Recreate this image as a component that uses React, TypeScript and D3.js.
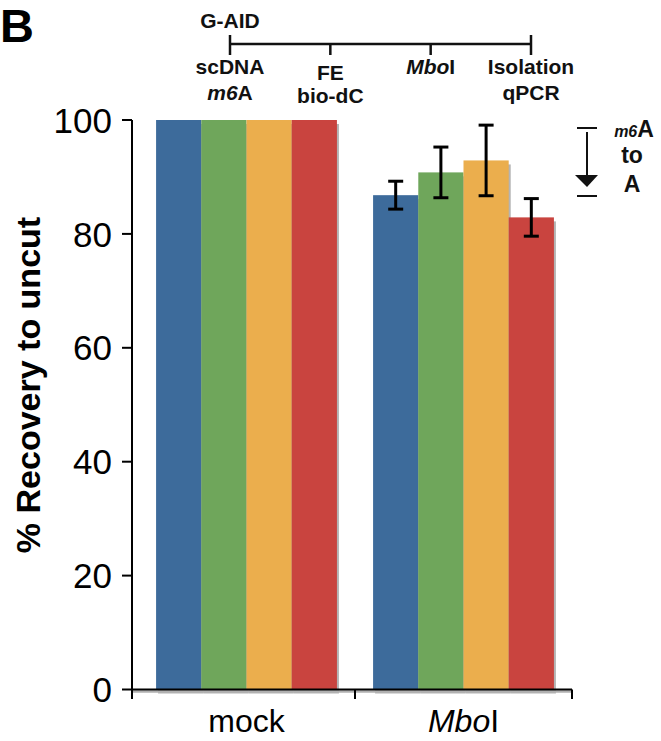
import React from 'react';
import * as d3 from 'd3';

// groups on the x axis and the four coloured series inside each group
const groups = ['mock', 'MboI'];
const seriesColors = ['#3d6b9b', '#6fa65b', '#ebae4d', '#c9443f'];
const mockValues = [100, 100, 100, 100];
const mboIValues = [86.8, 90.8, 92.9, 82.9];
const mockErrors = [0, 0, 0, 0];
const mboIErrors = [2.45, 4.45, 6.2, 3.3];
const yTicks = [0, 20, 40, 60, 80, 100];

// timeline above the chart
const steps = ['G-AID', 'FE', 'MboI', 'Isolation'];

const W = 661;
const H = 741;
const font = 'Liberation Sans, Arial, Helvetica, sans-serif';

const App = () => {
  const axisX = 132;
  const axisRight = 572;
  const y = d3.scaleLinear().domain([0, 100]).range([689.5, 120]);
  const x = d3.scaleBand().domain(groups).range([138, axisRight]);
  const inner = d3.scaleBand<number>()
    .domain(d3.range(seriesColors.length))
    .range([0, x.bandwidth()])
    .paddingOuter(0.4)
    .paddingInner(0);

  const rows = groups.map((g, gi) => ({
    group: g,
    values: gi === 0 ? mockValues : mboIValues,
    errors: gi === 0 ? mockErrors : mboIErrors,
  }));

  const tl = d3.scalePoint().domain(steps).range([230, 531]);
  const tlY = 44;

  return (
    <svg width={W} height={H} style={{ position: 'absolute', left: 0, top: 0 }} fontFamily={font}>
      <rect width={W} height={H} fill="#fff" />

      {/* panel letter */}
      <text x={0} y={42} fontSize={47} fontWeight="bold">B</text>

      {/* timeline */}
      <g stroke="#111" strokeWidth={2.5}>
        <line x1={tl('G-AID')} x2={tl('Isolation')} y1={tlY} y2={tlY} />
        <line x1={tl('G-AID')} x2={tl('G-AID')} y1={35} y2={55} />
        <line x1={tl('Isolation')} x2={tl('Isolation')} y1={35} y2={55} />
        <line x1={tl('FE')} x2={tl('FE')} y1={tlY} y2={55} />
        <line x1={tl('MboI')} x2={tl('MboI')} y1={tlY} y2={55} />
      </g>
      <g fontSize={21} fontWeight="bold" textAnchor="middle" fill="#111">
        <text x={tl('G-AID')} y={28}>G-AID</text>
        <text x={tl('G-AID')} y={74}>scDNA</text>
        <text x={tl('G-AID')} y={100}><tspan fontStyle="italic">m6</tspan>A</text>
        <text x={tl('FE')} y={80}>FE</text>
        <text x={tl('FE')} y={103}>bio-dC</text>
        <text x={tl('MboI')} y={74}><tspan fontStyle="italic">Mbo</tspan>I</text>
        <text x={tl('Isolation')} y={74}>Isolation</text>
        <text x={tl('Isolation')} y={100}>qPCR</text>
      </g>

      {/* bar shadows */}
      {rows.map(r => (
        <g key={'s' + r.group} transform={`translate(${x(r.group)},0)`}>
          {r.values.map((v, i) => (
            <rect key={i} x={(inner(i) ?? 0) + 2} y={y(v) + 4} width={inner.bandwidth()}
              height={y(0) - y(v)} fill="#b4b4b4" />
          ))}
        </g>
      ))}

      {/* axis shadow */}
      <line x1={axisX} x2={axisRight} y1={y(0) + 2} y2={y(0) + 2} stroke="#b0b0b0" strokeWidth={2.5} />

      {/* bars */}
      {rows.map(r => (
        <g key={r.group} transform={`translate(${x(r.group)},0)`}>
          {r.values.map((v, i) => (
            <rect key={i} x={inner(i)} y={y(v)} width={inner.bandwidth()}
              height={y(0) - y(v)} fill={seriesColors[i]} />
          ))}
        </g>
      ))}

      {/* error bars */}
      {rows.map(r => (
        <g key={'e' + r.group} transform={`translate(${x(r.group)},0)`} stroke="#000" strokeWidth={3}>
          {r.values.map((v, i) => {
            const e = r.errors[i];
            if (!e) return null;
            const cx = (inner(i) ?? 0) + inner.bandwidth() / 2;
            return (
              <g key={i}>
                <line x1={cx} x2={cx} y1={y(v + e)} y2={y(v - e)} />
                <line x1={cx - 7.5} x2={cx + 7.5} y1={y(v + e)} y2={y(v + e)} />
                <line x1={cx - 7.5} x2={cx + 7.5} y1={y(v - e)} y2={y(v - e)} />
              </g>
            );
          })}
        </g>
      ))}

      {/* y axis */}
      <g stroke="#000" strokeWidth={2}>
        <line x1={axisX} x2={axisX} y1={y(100)} y2={699} />
        {yTicks.map(t => (
          <line key={t} x1={axisX - 10} x2={axisX} y1={y(t)} y2={y(t)} />
        ))}
      </g>
      <g fontSize={35} textAnchor="end" fill="#000">
        {yTicks.map(t => (
          <text key={t} x={112} y={y(t)} dy="0.36em">{t}</text>
        ))}
      </g>
      <text transform={`translate(40,385) rotate(-90)`} textAnchor="middle" fontSize={34} fontWeight="bold">
        % Recovery to uncut
      </text>

      {/* x axis */}
      <g stroke="#000" strokeWidth={2}>
        <line x1={axisX} x2={axisRight} y1={y(0)} y2={y(0)} />
        {[...groups.slice(1).map(g => x(g) as number), axisRight].map((t, i) => (
          <line key={i} x1={t} x2={t} y1={y(0)} y2={699} />
        ))}
      </g>
      <g fontSize={32} textAnchor="middle" fill="#000">
        <text x={(x('mock') ?? 0) + x.bandwidth() / 2} y={732}>mock</text>
        <text x={(x('MboI') ?? 0) + x.bandwidth() / 2} y={732}><tspan fontStyle="italic">Mbo</tspan>I</text>
      </g>

      {/* m6A -> A annotation */}
      <g stroke="#111" strokeWidth={2}>
        <line x1={577} x2={597} y1={128} y2={128} />
        <line x1={577} x2={597} y1={196} y2={196} />
        <line x1={587} x2={587} y1={132} y2={176} />
      </g>
      <path d="M575,175 L598,175 L587,187 Z" fill="#111" />
      <g fontWeight="bold" fill="#111" textAnchor="middle">
        <text x={634} y={137} fontSize={23}><tspan fontSize={16} fontStyle="italic">m6</tspan>A</text>
        <text x={632} y={163} fontSize={23}>to</text>
        <text x={632} y={192} fontSize={23}>A</text>
      </g>
    </svg>
  );
};

export default App;
